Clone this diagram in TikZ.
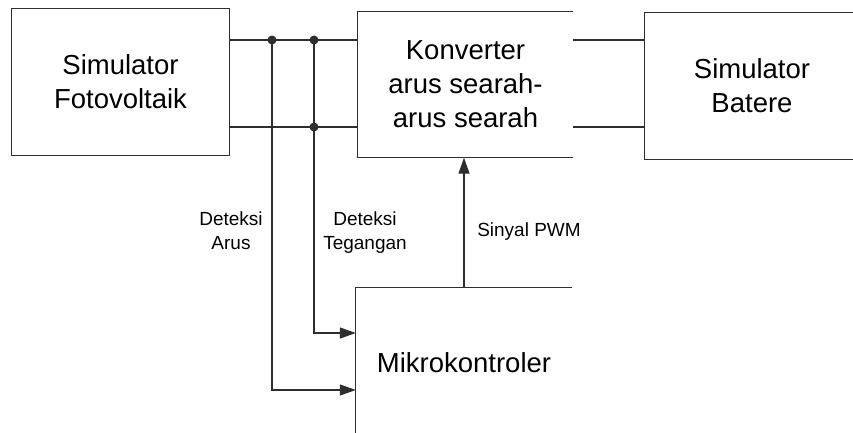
\documentclass[tikz,border=0pt]{standalone}
\usepackage{fontspec}
\setmainfont{Liberation Sans}
\usetikzlibrary{arrows.meta,positioning,calc}
\definecolor{Ink}{HTML}{2E2E2E}

\begin{document}
\begin{tikzpicture}[x=1pt,y=-1pt,
    blockbox/.style={minimum width=#1,minimum height=146pt,inner sep=0pt,align=center,font=\fontsize{27.5}{34}\selectfont},
    wire/.style={draw=Ink,line width=1.2pt},
    sensearrow/.style={wire,-{Triangle[length=16pt,width=11pt]}},
    junction/.style={circle,fill=Ink,inner sep=0pt,minimum size=9pt},
    sigtext/.style={align=center,inner sep=0pt,font=\fontsize{19}{24}\selectfont}]
    \useasboundingbox (0,0) rectangle (853,432);
    \node[blockbox=217pt] (pvsim) at (120.5,82) {Simulator\\Fotovoltaik};
    \node[blockbox=215pt] (conv) at (465.5,84.5) {Konverter\\arus searah-\\arus searah};
    \node[blockbox=214pt] (batsim) at (752,86) {Simulator\\Batere};
    \node[blockbox=216pt,minimum height=150pt] (mcu) at (464,363) {Mikrokontroler};
    \draw[wire] (pvsim.north west) rectangle (pvsim.south east);
    \draw[wire] (conv.north east) -- (conv.north west) -- (conv.south west) -- (conv.south east);
    \draw[wire] (batsim.north east) -- (batsim.north west) -- (batsim.south west) -- (batsim.south east);
    \draw[wire] (mcu.north east) -- (mcu.north west) -- (mcu.south west);
    % taps on the PV lines
    \coordinate (iTap) at (272,40);
    \coordinate (vTap) at (314,40);
    \coordinate (vLow) at (314,127);
    \coordinate (iIn) at (0,390);
    \coordinate (vIn) at (0,333);
    \draw[wire] (pvsim.east |- iTap) -- (conv.west |- iTap);
    \draw[wire] (pvsim.east |- vLow) -- (conv.west |- vLow);
    \draw[wire] (conv.east |- iTap) -- (batsim.west |- iTap);
    \draw[wire] (conv.east |- vLow) -- (batsim.west |- vLow);
    \draw[sensearrow] (iTap) |- (mcu.west |- iIn);
    \draw[sensearrow] (vTap) |- (mcu.west |- vIn);
    \draw[sensearrow] (mcu.north) -- (mcu.north |- conv.south);
    \node[junction] (iDot) at (iTap) {};
    \node[junction] (vDot) at (vTap) {};
    \node[junction] (vDotLow) at (vLow) {};
    \node[sigtext] (iLabel) at (231,231) {Deteksi\\Arus};
    \node[sigtext] (vLabel) at (365,233) {Deteksi\\Tegangan};
    \node[sigtext] (pwmLabel) at (529,232) {Sinyal PWM};
\end{tikzpicture}
\end{document}
